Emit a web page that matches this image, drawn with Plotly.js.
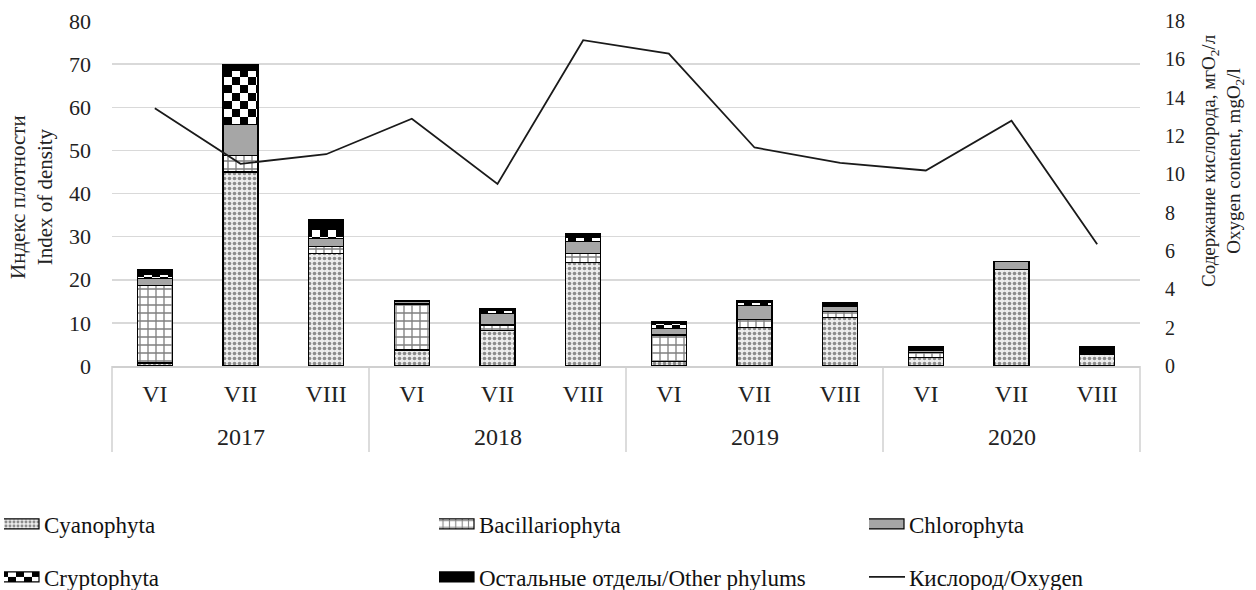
<!DOCTYPE html>
<html>
<head>
<meta charset="utf-8">
<script src="https://cdn.plot.ly/plotly-3.0.1.min.js"></script>
<style>html,body{margin:0;padding:0;background:#fff;}#chart{width:1256px;height:590px;}</style>
</head>
<body>
<div id="chart"></div>
<script>
// ---- data ----
const years = ['2017','2017','2017','2018','2018','2018','2019','2019','2019','2020','2020','2020'];
const months = ['VI','VII','VIII','VI','VII','VIII','VI','VII','VIII','VI','VII','VIII'];
const cyanophyta = [0.7, 45.0, 26.0, 3.7, 8.2, 24.0, 1.0, 9.0, 11.2, 2.0, 22.3, 2.8];
const bacillariophyta = [18.0, 3.8, 1.7, 10.7, 1.3, 2.1, 6.2, 1.7, 1.4, 1.1, 0, 0];
const chlorophyta = [1.5, 7.2, 1.9, 0.6, 2.6, 2.7, 1.5, 3.3, 1.2, 0.6, 1.9, 0];
const cryptophyta = [1.1, 12.6, 2.1, 0, 0.8, 1.1, 1.2, 0.7, 0, 0, 0, 0];
const otherPhylums = [1.0, 1.2, 2.2, 0.2, 0.3, 0.7, 0.5, 0.4, 1.0, 0.8, 0, 1.7];
const oxygen = [13.45, 10.55, 11.05, 12.9, 9.5, 17.0, 16.3, 11.4, 10.6, 10.2, 12.8, 6.35];
const yearGroups = ['2017','2018','2019','2020'];

const names = ['Cyanophyta','Bacillariophyta','Chlorophyta','Cryptophyta','Остальные отделы/Other phylums','Кислород/Oxygen'];

const FONT = "'Liberation Serif', 'Times New Roman', serif";
const cats = years.map((y, i) => y + ' ' + months[i]);
const barLine = {color:'#000', width:1.2};

function bar(name, y, marker, legend){
  return {type:'bar', name:name, x:cats, y:y, legend:legend, hoverinfo:'skip',
          marker:Object.assign({line:barLine}, marker)};
}

const traces = [
  bar(names[0], cyanophyta, {color:'#fff', pattern:{shape:'.', size:5, solidity:0.42, fgcolor:'#2a2a2a', bgcolor:'#ececec', fillmode:'overlay'}}, 'legend'),
  bar(names[1], bacillariophyta, {color:'#fff', pattern:{shape:'+', size:8, solidity:0.3, fgcolor:'#000', bgcolor:'#fff', fillmode:'overlay'}}, 'legend2'),
  bar(names[2], chlorophyta, {color:'#a6a6a6'}, 'legend3'),
  bar(names[3], cryptophyta, {color:'#fff', pattern:{shape:'.', size:13, solidity:0.45, fgcolor:'#000', bgcolor:'#fff', fillmode:'overlay'}}, 'legend4'),
  bar(names[4], otherPhylums, {color:'#000'}, 'legend5'),
  {type:'scatter', mode:'lines', name:names[5], x:cats, y:oxygen, yaxis:'y2', legend:'legend6',
   line:{color:'#1a1a1a', width:1.8}, hoverinfo:'skip'}
];

const W = 1256, H = 590, L = 112, R = 116, T = 21, B = 224;
const pw = W - L - R, ph = H - T - B;
const py2y = p => (H - B - p) / ph;

// legend text start columns / row centres (px)
const colText = [48, 483, 913];
const rowY = [524, 577];
function leg(i){
  const c = i % 3, r = Math.floor(i / 3);
  return {orientation:'h', xref:'container', yref:'container', xanchor:'left', yanchor:'middle',
    x:(colText[c] - 44) / W, y:1 - rowY[r] / H,
    font:{family:FONT, size:23, color:'#111'}, bgcolor:'rgba(0,0,0,0)', borderwidth:0};
}

const nCat = cats.length, perYear = nCat / yearGroups.length;
const shapes = [];
for (let k = 0; k <= yearGroups.length; k++) {
  const xp = (k * perYear) / nCat;
  shapes.push({type:'line', xref:'paper', yref:'paper', x0:xp, x1:xp, y0:0, y1:py2y(452),
               line:{color:'#d0d0d0', width:1.5}});
}
const annotations = yearGroups.map((yr, k) => ({
  xref:'x', yref:'paper', x:cats[k * perYear + 1], y:py2y(437), xanchor:'center', yanchor:'middle',
  showarrow:false, text:yr, font:{family:FONT, size:24, color:'#222'}
}));
annotations.push(
  {xref:'paper', yref:'paper', x:(31 - L) / pw, y:py2y(197), xanchor:'center', yanchor:'middle',
   textangle:-90, showarrow:false, text:'Индекс плотности<br>Index of density',
   font:{family:FONT, size:21, color:'#222'}},
  {xref:'paper', yref:'paper', x:(1222 - L) / pw, y:py2y(161), xanchor:'center', yanchor:'middle',
   textangle:-90, showarrow:false, text:'Содержание кислорода, мгО<sub>2</sub>/л<br>Oxygen content, mgO<sub>2</sub>/l',
   font:{family:FONT, size:19, color:'#222'}}
);

const layout = {
  width:W, height:H,
  margin:{l:L, r:R, t:T, b:B, autoexpand:false},
  paper_bgcolor:'#fff', plot_bgcolor:'#fff',
  barmode:'stack', bargap:0.59,
  font:{family:FONT, size:20, color:'#222'},
  xaxis:{type:'category', range:[-0.5, nCat - 0.5], tickvals:cats, ticktext:months,
         showgrid:false, showline:true, linecolor:'#d0d0d0', linewidth:1.5,
         ticks:'', ticklabelstandoff:6, tickfont:{family:FONT, size:24, color:'#222'}, zeroline:false},
  yaxis:{range:[0,80], dtick:10, showgrid:true, gridcolor:'#d9d9d9', gridwidth:1.5, zeroline:false,
         showline:false, ticks:'', ticklabelstandoff:20, tickfont:{family:FONT, size:22, color:'#222'}},
  yaxis2:{range:[0,18], dtick:2, overlaying:'y', side:'right', showgrid:false, zeroline:false,
          showline:false, ticks:'', ticklabelstandoff:24, tickfont:{family:FONT, size:20, color:'#222'}},
  legend:leg(0), legend2:leg(1), legend3:leg(2), legend4:leg(3), legend5:leg(4), legend6:leg(5),
  showlegend:true,
  shapes:shapes,
  annotations:annotations
};

function applyChecker(){
  const NS = 'http://www.w3.org/2000/svg';
  const svg = document.querySelector('#chart svg.main-svg');
  let defs = svg.querySelector('defs');
  if (!defs) { defs = document.createElementNS(NS, 'defs'); svg.insertBefore(defs, svg.firstChild); }
  const s = 16, c = 8;
  const p = document.createElementNS(NS, 'pattern');
  p.setAttribute('id', 'checkerCrypto');
  p.setAttribute('width', s); p.setAttribute('height', s);
  p.setAttribute('patternUnits', 'userSpaceOnUse');
  const mk = (x, y, w, h, f) => { const r = document.createElementNS(NS, 'rect');
    r.setAttribute('x', x); r.setAttribute('y', y); r.setAttribute('width', w); r.setAttribute('height', h);
    r.setAttribute('fill', f); p.appendChild(r); };
  mk(0, 0, s, s, '#fff'); mk(0, 0, c, c, '#000'); mk(c, c, c, c, '#000');
  defs.appendChild(p);
  const barTraces = document.querySelectorAll('#chart .barlayer .trace');
  if (barTraces[3]) barTraces[3].querySelectorAll('path').forEach(pp => { pp.style.fill = 'url(#checkerCrypto)'; });
  document.querySelectorAll('#chart g.traces').forEach(g => {
    if (g.textContent.trim() === names[3])
      g.querySelectorAll('.legendpoints path').forEach(pp => { pp.style.fill = 'url(#checkerCrypto)'; });
  });
}
function widenSwatches(){
  document.querySelectorAll('#chart .legendpoints path').forEach(p => {
    p.setAttribute('d', 'M15,5H-28V-5H15Z');
  });
  document.querySelectorAll('#chart .legendlines path').forEach(p => {
    p.setAttribute('d', 'M-10,0h46');
  });
  document.querySelectorAll('#chart .legendtext').forEach(t => { t.style.fontFamily = FONT; });
}

Plotly.newPlot('chart', traces, layout, {displayModeBar:false, staticPlot:true}).then(() => {
  widenSwatches();
  applyChecker();
});
</script>
</body>
</html>
